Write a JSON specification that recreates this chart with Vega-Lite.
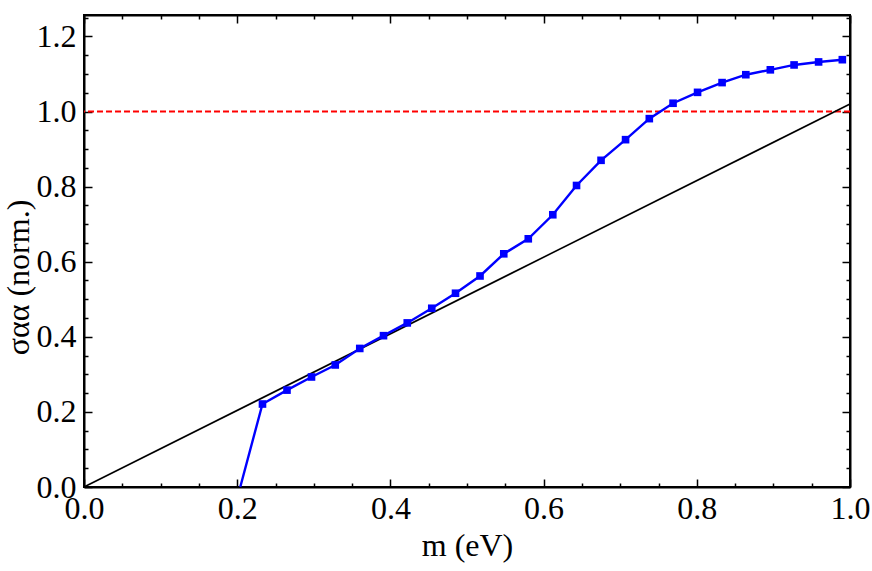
{
  "$schema": "https://vega.github.io/schema/vega-lite/v6.json",
  "width": 766,
  "height": 472,
  "autosize": "none",
  "padding": {"left": 84, "top": 15, "right": 22, "bottom": 84},
  "background": "white",
  "config": {
    "view": {"stroke": "black", "strokeWidth": 2},
    "font": "Liberation Serif",
    "axis": {
      "domainColor": "black", "domainWidth": 2, "tickColor": "black", "tickWidth": 1.5,
      "labelFont": "Liberation Serif", "titleFont": "Liberation Serif",
      "labelFontSize": 32, "titleFontSize": 32, "titleFontWeight": "normal",
      "labelColor": "black", "titleColor": "black", "grid": false,
      "labelFlush": false, "labelOverlap": false, "labelBound": false
    }
  },
  "datasets": {
    "sigma": [
      {"m": 0.204, "s": 0.0}, {"m": 0.233, "s": 0.221}, {"m": 0.265, "s": 0.258}, {"m": 0.297, "s": 0.293},
      {"m": 0.328, "s": 0.325}, {"m": 0.360, "s": 0.369}, {"m": 0.391, "s": 0.403}, {"m": 0.422, "s": 0.437},
      {"m": 0.454, "s": 0.476}, {"m": 0.485, "s": 0.516}, {"m": 0.517, "s": 0.562}, {"m": 0.548, "s": 0.621},
      {"m": 0.580, "s": 0.661}, {"m": 0.612, "s": 0.725}, {"m": 0.643, "s": 0.803}, {"m": 0.675, "s": 0.870},
      {"m": 0.707, "s": 0.925}, {"m": 0.738, "s": 0.981}, {"m": 0.769, "s": 1.022}, {"m": 0.801, "s": 1.051},
      {"m": 0.833, "s": 1.077}, {"m": 0.864, "s": 1.098}, {"m": 0.896, "s": 1.111}, {"m": 0.927, "s": 1.124},
      {"m": 0.959, "s": 1.132}, {"m": 0.990, "s": 1.138}
    ],
    "ref": [{"m": 0.0, "s": 0.0}, {"m": 1.0, "s": 1.02}],
    "level": [{"s": 1.0}]
  },
  "layer": [
    {
      "data": {"name": "level"},
      "mark": {"type": "rule", "color": "#ff0000", "strokeWidth": 2.2, "strokeDash": [6, 3]},
      "encoding": {"y": {"field": "s", "type": "quantitative", "axis": null}}
    },
    {
      "data": {"name": "ref"},
      "mark": {"type": "line", "color": "black", "strokeWidth": 1.6},
      "encoding": {
        "x": {"field": "m", "type": "quantitative", "scale": {"domain": [0, 1], "nice": false, "zero": false},
          "axis": {"orient": "top", "labels": false, "title": null,
            "values": [0,0.05,0.1,0.15,0.2,0.25,0.3,0.35,0.4,0.45,0.5,0.55,0.6,0.65,0.7,0.75,0.8,0.85,0.9,0.95,1],
            "tickSize": {"condition": {"test": "abs(datum.value*5 - round(datum.value*5)) < 0.001", "value": -8}, "value": -4}}},
        "y": {"field": "s", "type": "quantitative", "scale": {"domain": [0, 1.257], "nice": false, "zero": false},
          "axis": {"orient": "right", "labels": false, "title": null,
            "values": [0,0.05,0.1,0.15,0.2,0.25,0.3,0.35,0.4,0.45,0.5,0.55,0.6,0.65,0.7,0.75,0.8,0.85,0.9,0.95,1,1.05,1.1,1.15,1.2,1.25],
            "tickSize": {"condition": {"test": "abs(datum.value*5 - round(datum.value*5)) < 0.001", "value": -8}, "value": -4}}}
      }
    },
    {
      "data": {"name": "sigma"},
      "mark": {"type": "line", "color": "#0000ff", "strokeWidth": 2.4},
      "encoding": {
        "x": {"field": "m", "type": "quantitative",
          "axis": {"orient": "bottom", "title": "m (eV)",
            "values": [0,0.05,0.1,0.15,0.2,0.25,0.3,0.35,0.4,0.45,0.5,0.55,0.6,0.65,0.7,0.75,0.8,0.85,0.9,0.95,1],
            "labelExpr": "abs(datum.value*5 - round(datum.value*5)) < 0.001 ? format(datum.value, '.1f') : ''",
            "labelPadding": 14,
            "titleBaseline": "alphabetic", "titleY": 68,
            "tickSize": {"condition": {"test": "abs(datum.value*5 - round(datum.value*5)) < 0.001", "value": -8}, "value": -4}}},
        "y": {"field": "s", "type": "quantitative",
          "axis": {"orient": "left", "title": "σαα (norm.)",
            "values": [0,0.05,0.1,0.15,0.2,0.25,0.3,0.35,0.4,0.45,0.5,0.55,0.6,0.65,0.7,0.75,0.8,0.85,0.9,0.95,1,1.05,1.1,1.15,1.2,1.25],
            "labelExpr": "abs(datum.value*5 - round(datum.value*5)) < 0.001 ? format(datum.value, '.1f') : ''",
            "labelPadding": 16,
            "titleBaseline": "alphabetic", "titleX": -56, "titleY": 262, "titleAlign": "center", "titleAngle": -90,
            "tickSize": {"condition": {"test": "abs(datum.value*5 - round(datum.value*5)) < 0.001", "value": -8}, "value": -4}}}
      }
    },
    {
      "data": {"name": "sigma"},
      "transform": [{"filter": "datum.s > 0"}],
      "mark": {"type": "point", "shape": "square", "filled": true, "color": "#0000ff", "size": 58, "opacity": 1},
      "encoding": {
        "x": {"field": "m", "type": "quantitative", "axis": null},
        "y": {"field": "s", "type": "quantitative", "axis": null}
      }
    }
  ],
  "resolve": {"axis": {"x": "independent", "y": "independent"}}
}
